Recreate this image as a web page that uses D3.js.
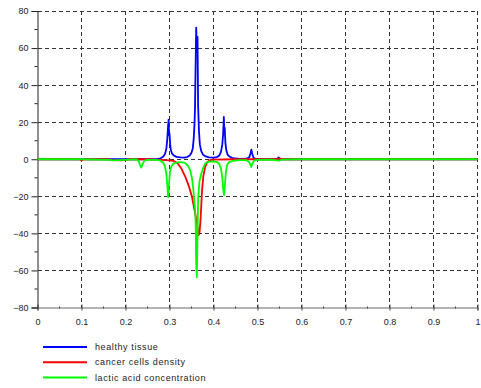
<!DOCTYPE html>
<html><head><meta charset="utf-8">
<script src="https://cdn.jsdelivr.net/npm/d3@7"></script>
<style>body{margin:0;background:#fff;}svg{display:block;font-family:"Liberation Sans",Arial,sans-serif;}</style>
</head><body><svg id="c" width="481" height="388"></svg>
<script>
const xTicks = [0,0.1,0.2,0.3,0.4,0.5,0.6,0.7,0.8,0.9,1];
const yTicks = [-80,-60,-40,-20,0,20,40,60,80];
const seriesNames = ["healthy tissue","cancer cells density","lactic acid concentration"];
const seriesColors = ["#0000ff","#ff0000","#00ff00"];

const healthyX = [0,0.1,0.2,0.25,0.27,0.28,0.286,0.290,0.293,0.295,0.2965,0.298,0.299,0.300,0.3015,0.303,0.306,0.31,0.316,0.325,0.333,0.34,0.346,0.35,0.353,0.355,0.357,0.358,0.359,0.3607,0.362,0.3637,0.365,0.367,0.369,0.372,0.376,0.382,0.39,0.40,0.408,0.413,0.417,0.42,0.422,0.4235,0.4245,0.4255,0.427,0.429,0.432,0.436,0.442,0.45,0.46,0.475,0.481,0.484,0.486,0.488,0.491,0.495,0.5,0.54,0.545,0.548,0.551,0.555,1];
const healthyY = [0,0,0,0,0.1,0.5,1.5,3,6,11,17,21.4,13,14,8,5,3,2,1.3,1.0,0.9,1.2,2,3.5,6,11,20,28,45,71,58,66,29,15,8,4.5,2.5,1.5,1.0,0.9,1.2,2,4,8,14,22.8,15,17,9,5,2.5,1.5,0.8,0.4,0.2,0.3,1,3,5.2,3,0.8,0.2,0,0,0.2,1.0,0.2,0,0];

const cancerX = [0,0.095,0.1,0.105,0.16,0.17,0.19,0.2,0.21,0.25,0.28,0.3,0.309,0.318,0.327,0.336,0.344,0.351,0.357,0.362,0.366,0.368,0.370,0.372,0.374,0.377,0.381,0.386,0.392,0.40,0.45,0.545,0.55,0.556,1];
const cancerY = [0,0,-0.6,0,0,-0.5,-0.6,-0.3,0,0,-0.3,-0.6,-0.9,-2,-5,-9.5,-14.5,-20.3,-27.5,-34,-41,-40,-34.6,-26,-16.7,-9,-4.1,-1.5,-0.5,-0.2,0,0,0.5,0,0];

const lacticX = [0,0.1,0.165,0.17,0.2,0.225,0.23,0.233,0.236,0.239,0.243,0.25,0.27,0.28,0.286,0.29,0.293,0.295,0.297,0.299,0.301,0.304,0.308,0.315,0.325,0.335,0.342,0.347,0.351,0.354,0.356,0.358,0.3595,0.3605,0.362,0.3635,0.365,0.368,0.372,0.376,0.381,0.39,0.40,0.408,0.413,0.417,0.42,0.422,0.424,0.426,0.428,0.431,0.436,0.445,0.46,0.475,0.481,0.484,0.486,0.489,0.493,0.5,0.53,0.548,0.555,0.6,1];
const lacticY = [0,0,-0.3,-0.6,-0.3,0,-1,-3,-4.5,-2.5,-0.8,-0.3,-0.3,-0.8,-2,-4,-8,-14,-20.6,-13,-7,-4,-2.5,-1.8,-1.6,-2,-3.5,-6,-10,-16,-22,-26,-35,-55,-63.7,-45,-22,-12,-8,-5,-2.3,-1.3,-1.1,-1.5,-2.5,-5,-10,-16,-19.4,-14,-7,-3,-1.5,-0.8,-0.5,-0.5,-1.5,-3,-4.1,-2,-0.6,-0.3,-0.2,-0.8,-0.2,0,0];

const svg = d3.select("#c");
const L = 37.5, R = 477.5, T = 11, B = 307.5;
const x = d3.scaleLinear().domain([0,1]).range([L,R]);
const y = d3.scaleLinear().domain([-80,80]).range([B,T]);

// grid
const g = svg.append("g");
g.selectAll(".vg").data(xTicks.filter(d=>d>0)).join("line")
  .attr("x1",d=>x(d)).attr("x2",d=>x(d)).attr("y1",T).attr("y2",B)
  .attr("stroke","#333").attr("stroke-width",1).attr("stroke-dasharray","4,3").attr("shape-rendering","crispEdges");
g.selectAll(".hg").data(yTicks.filter(d=>d>-80)).join("line")
  .attr("x1",L).attr("x2",R).attr("y1",d=>y(d)).attr("y2",d=>y(d))
  .attr("stroke","#333").attr("stroke-width",1).attr("stroke-dasharray","4,3").attr("shape-rendering","crispEdges");

// axes
const xAxis = d3.axisBottom(x).tickValues(xTicks).tickFormat(d=>d===0?"0":d===1?"1":d3.format(".1f")(d)).tickSize(3).tickPadding(8);
const xa = svg.append("g").attr("transform",`translate(0,${B})`).call(xAxis);
xa.select(".domain").attr("stroke","#666");
xa.selectAll(".tick line").attr("stroke","#444").attr("y1",-3);
xa.selectAll("text").attr("font-size","9px").attr("fill","#222").attr("font-family","Liberation Sans, Arial");
const xMinor = d3.range(0.05,1,0.1);
svg.append("g").selectAll("line").data(xMinor).join("line")
  .attr("x1",d=>x(d)).attr("x2",d=>x(d)).attr("y1",B-1).attr("y2",B+1).attr("stroke","#444");

const yAxis = d3.axisLeft(y).tickValues(yTicks).tickSize(6).tickPadding(3);
const ya = svg.append("g").attr("transform",`translate(${L},0)`).call(yAxis);
ya.select(".domain").attr("stroke","#222");
ya.selectAll(".tick line").attr("stroke","#222");
ya.selectAll("text").attr("font-size","9px").attr("fill","#222").attr("font-family","Liberation Sans, Arial");
const yMinor = d3.range(-70,80,20);
svg.append("g").selectAll("line").data(yMinor).join("line")
  .attr("x1",L-3).attr("x2",L).attr("y1",d=>y(d)).attr("y2",d=>y(d)).attr("stroke","#222");

// lines
const line = d3.line().x(d=>x(d[0])).y(d=>y(d[1]));
const datasets = [
  d3.zip(healthyX, healthyY),
  d3.zip(cancerX, cancerY),
  d3.zip(lacticX, lacticY)
];
datasets.forEach((ds,i)=>{
  svg.append("path").datum(ds).attr("d",line).attr("fill","none")
    .attr("stroke",seriesColors[i]).attr("stroke-width",1.8).attr("stroke-linejoin","round");
});

// legend
const lg = svg.append("g");
seriesNames.forEach((n,i)=>{
  const yy = 347 + i*15.3;
  lg.append("line").attr("x1",43).attr("x2",87).attr("y1",yy).attr("y2",yy)
    .attr("stroke",seriesColors[i]).attr("stroke-width",2);
  lg.append("text").attr("x",95).attr("y",yy+3).text(n)
    .attr("font-size","9px").attr("fill","#222").attr("letter-spacing","0.6px");
});
</script></body></html>
